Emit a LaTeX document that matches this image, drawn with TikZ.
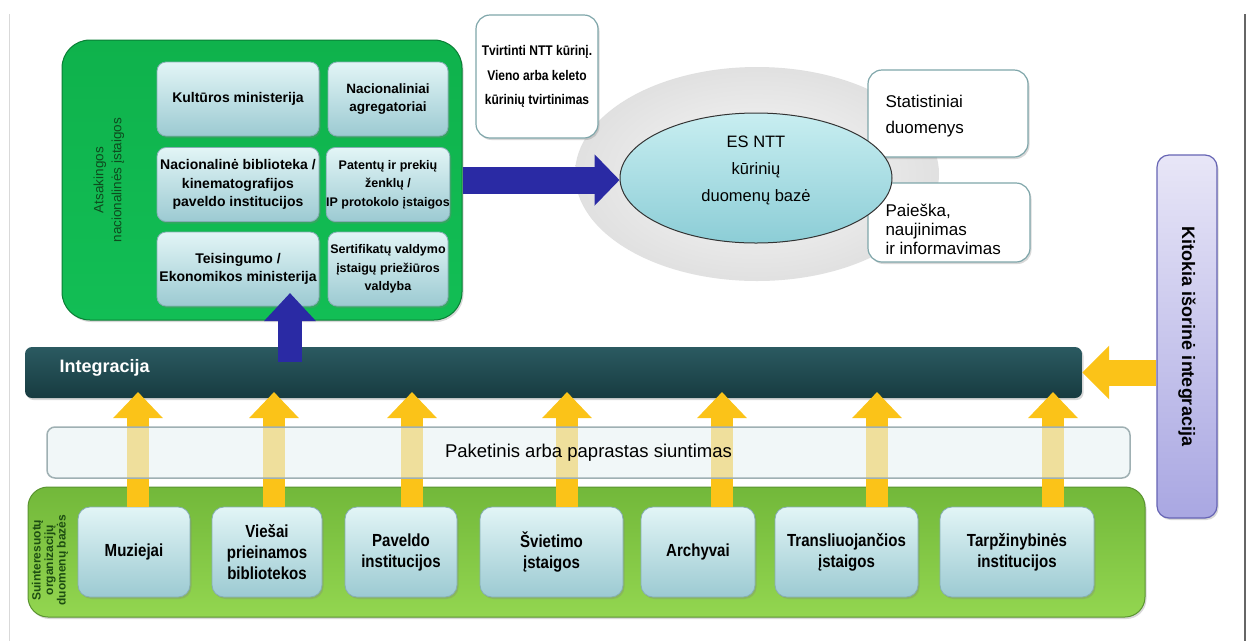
\documentclass[tikz,border=0pt]{standalone}
\usepackage{fontspec}
\setmainfont{Liberation Sans}
\newfontfamily\narrowfont{Liberation Sans}[FakeStretch=0.86]
\usetikzlibrary{shapes.geometric,arrows.meta,shadows}
\definecolor{grnTop}{HTML}{0FB24C}
\definecolor{grnBot}{HTML}{12BE55}
\definecolor{grnLine}{HTML}{0A7F35}
\definecolor{inTop}{HTML}{E2F5F6}
\definecolor{inBot}{HTML}{9CCAD2}
\definecolor{inLine}{HTML}{86AEB5}
\definecolor{barTop}{HTML}{2B5A61}
\definecolor{barBot}{HTML}{173B40}
\definecolor{bandFill}{HTML}{E8F2F4}
\definecolor{bandLine}{HTML}{9FB0B3}
\definecolor{orgTop}{HTML}{72B83A}
\definecolor{orgBot}{HTML}{93D650}
\definecolor{orgLine}{HTML}{5A9430}
\definecolor{yel}{HTML}{FBC318}
\definecolor{blu}{HTML}{2A2AA4}
\definecolor{purTop}{HTML}{E8E6F7}
\definecolor{purBot}{HTML}{A9A7E2}
\definecolor{purLine}{HTML}{6664B4}
\definecolor{dbTop}{HTML}{C8EEF1}
\definecolor{dbBot}{HTML}{8CCDD6}
\definecolor{lblGreen}{HTML}{0E4A1E}
\definecolor{lblGreenB}{HTML}{1D4D12}
\definecolor{wbLine}{HTML}{7FA6AA}
\begin{document}
\begin{tikzpicture}[x=1pt,y=-1pt,
  shadowed/.style={drop shadow={opacity=0.3,shadow xshift=1.5pt,shadow yshift=-2pt}},
  innerbox/.style={draw=inLine, line width=0.8pt, rounded corners=9pt, top color=inTop, bottom color=inBot,
    shadowed, align=center, inner sep=0pt, font=\bfseries\fontsize{14}{18.5}\selectfont},
  orgbox/.style={draw=inLine, line width=0.8pt, rounded corners=12pt, top color=inTop, bottom color=inBot,
    shadowed, align=center, inner sep=1pt, minimum height=90pt, font=\narrowfont\bfseries\fontsize{17.5}{21}\selectfont},
  whitebox/.style={draw=wbLine, line width=1.2pt, rounded corners=14pt, fill=white, shadowed},
  yarrow/.style={draw=yel, line width=22pt, -{Triangle[width=48pt,length=26pt]}},
  barrow/.style={draw=blu, line width=27pt, -{Triangle[width=50pt,length=25pt]}}
]
\useasboundingbox (0,0) rectangle (1248,641);
\fill[white] (0,0) rectangle (1248,641);
\draw[black!15, line width=1pt] (9,14) -- (9,641);
\draw[black!60, line width=2pt] (1245,14) -- (1245,641);

% halo and database
\node[ellipse, minimum width=364pt, minimum height=214pt, inner color=gray!5, outer color=gray!24] (halo) at (757,174) {};
\node[whitebox, minimum width=160pt, minimum height=87pt] (stat) at (948,113.5) {};
\node[anchor=west, align=left, font=\fontsize{17}{26}\selectfont] (statt) at (882,116) {Statistiniai\\duomenys};
\node[whitebox, minimum width=162pt, minimum height=79pt] (search) at (949,222.5) {};
\node[anchor=west, align=left, font=\fontsize{17}{19}\selectfont] (searcht) at (882,229) {Paieška,\\naujinimas\\ir informavimas};
\node[ellipse, draw=black!80, line width=1pt, minimum width=272pt, minimum height=130pt,
  top color=dbTop, bottom color=dbBot] (db) at (756,178) {};
\node[align=center, font=\fontsize{16.5}{27}\selectfont] (dbt) at ([yshift=8pt]db.center)
  {ES NTT\\kūrinių\\duomenų bazė};

\node[whitebox, minimum width=122pt, minimum height=123pt, align=center, inner sep=0pt,
  font=\narrowfont\bfseries\fontsize{14}{24.5}\selectfont] (tvirt) at (537,76.5)
  {Tvirtinti NTT kūrinį.\\Vieno arba keleto\\kūrinių tvirtinimas};

% national institutions
\node[draw=grnLine, line width=1pt, rounded corners=28pt, top color=grnTop, bottom color=grnBot,
  minimum width=400pt, minimum height=280pt, shadowed] (natl) at (262,180) {};
\node[rotate=90, align=center, text=lblGreen, font=\fontsize{13.5}{18}\selectfont] (natlLbl) at (109,180)
  {Atsakingos\\nacionalinės įstaigos};
\node[innerbox, minimum width=162pt, minimum height=74pt] (kult) at (238,99) {Kultūros ministerija};
\node[innerbox, minimum width=120pt, minimum height=74pt, font=\bfseries\fontsize{13.5}{18.5}\selectfont] (agr) at (388,99) {Nacionaliniai\\agregatoriai};
\node[innerbox, minimum width=162pt, minimum height=74pt] (bibl) at (238,184.5) {Nacionalinė biblioteka /\\kinematografijos\\paveldo institucijos};
\node[innerbox, minimum width=120pt, minimum height=74pt, font=\bfseries\fontsize{12.5}{18.5}\selectfont] (pat) at (388,184.5) {Patentų ir prekių\\ženklų /\\IP protokolo įstaigos};
\node[innerbox, minimum width=162pt, minimum height=74pt] (teis) at (238,269) {Teisingumo /\\Ekonomikos ministerija};
\node[innerbox, minimum width=120pt, minimum height=74pt, font=\bfseries\fontsize{12.5}{18.5}\selectfont] (sert) at (388,269) {Sertifikatų valdymo\\įstaigų priežiūros\\valdyba};

\draw[barrow] (natl.east) -- (natl.east -| db.west);

% integration bar
\node[rounded corners=7pt, top color=barTop, bottom color=barBot, minimum width=1057pt, minimum height=51pt, shadowed] (integ) at (553.5,372.5) {};
\node[anchor=west, text=white, font=\bfseries\fontsize{18}{20}\selectfont] (integt) at (56,368) {Integracija};

\coordinate (upTip) at (290,293);
\coordinate (upBase) at (290,362);
\draw[barrow, line width=24pt, -{Triangle[width=50pt,length=28pt]}] (upBase) -- (upTip);

% organisations
\node[draw=orgLine, line width=1pt, rounded corners=20pt, top color=orgTop, bottom color=orgBot,
  minimum width=1117pt, minimum height=130pt, shadowed] (orgs) at (586.5,552) {};
\node[rotate=90, align=center, text=lblGreenB, font=\bfseries\fontsize{12}{12.5}\selectfont] (orgsLbl) at (50,560)
  {Suinteresuotų\\organizacijų\\duomenų bazės};
\node[orgbox, minimum width=112pt] (b1) at (134,552) {Muziejai};
\node[orgbox, minimum width=110pt] (b2) at (267,552) {Viešai\\prieinamos\\bibliotekos};
\node[orgbox, minimum width=112pt] (b3) at (401,552) {Paveldo\\institucijos};
\node[orgbox, minimum width=143pt] (b4) at (551.5,552) {Švietimo\\įstaigos};
\node[orgbox, minimum width=114pt] (b5) at (698,552) {Archyvai};
\node[orgbox, minimum width=143pt] (b6) at (846.5,552) {Transliuojančios\\įstaigos};
\node[orgbox, minimum width=154pt] (b7) at (1017,552) {Tarpžinybinės\\institucijos};

\coordinate (a1) at (138,392);
\coordinate (a2) at (274,392);
\coordinate (a3) at (412,392);
\coordinate (a4) at (567,392);
\coordinate (a5) at (722,392);
\coordinate (a6) at (877,392);
\coordinate (a7) at (1053,392);
\draw[yarrow] (b1.north -| a1) -- (a1);
\draw[yarrow] (b2.north -| a2) -- (a2);
\draw[yarrow] (b3.north -| a3) -- (a3);
\draw[yarrow] (b4.north -| a4) -- (a4);
\draw[yarrow] (b5.north -| a5) -- (a5);
\draw[yarrow] (b6.north -| a6) -- (a6);
\draw[yarrow] (b7.north -| a7) -- (a7);

% band
\node[draw=bandLine, line width=1.5pt, rounded corners=8pt, fill=bandFill, fill opacity=0.6, text opacity=1,
  minimum width=1083pt, minimum height=51pt, font=\fontsize{18.5}{20}\selectfont] (band) at (588.5,452.5)
  {Paketinis arba paprastas siuntimas};

% external integration
\node[draw=purLine, line width=1.2pt, rounded corners=12pt, top color=purTop, bottom color=purBot,
  minimum width=60pt, minimum height=363pt, shadowed] (ext) at (1187,336.5) {};
\node[rotate=-90, font=\bfseries\fontsize{18}{20}\selectfont] (extt) at (ext.center) {Kitokia išorinė integracija};
\draw[yarrow, line width=26pt, -{Triangle[width=52pt,length=27pt]}] (ext.west |- integ.east) -- (integ.east);
\end{tikzpicture}
\end{document}
